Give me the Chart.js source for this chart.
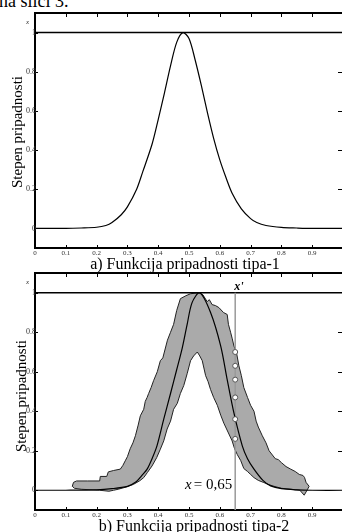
<!DOCTYPE html>
<html><head><meta charset="utf-8">
<script src="https://cdn.jsdelivr.net/npm/chart.js@4.4.0/dist/chart.umd.min.js"></script>
<style>
html,body{margin:0;padding:0;background:#fff;width:342px;height:532px;overflow:hidden;position:relative;font-family:"Liberation Serif","Times New Roman",serif;}
canvas{position:absolute;left:0;}
#c1{top:0}
#c2{top:262px}
.t{position:absolute;white-space:nowrap;color:#000;line-height:1;}
.yt{font-size:15px;transform:translate(-50%,-50%) rotate(-90deg);}
.cap{font-size:16px;transform:translate(-50%,-50%);}
</style></head><body>
<div class="t" id="head" style="left:-1px;top:-8px;font-size:18px;">na slici 3.</div>
<canvas id="c1" width="350" height="262"></canvas>
<canvas id="c2" width="350" height="270"></canvas>
<div class="t yt" style="left:17px;top:132px;">Stepen pripadnosti</div>
<div class="t yt" style="left:21px;top:396px;">Stepen pripadnosti</div>
<div class="t cap" style="left:185px;top:264px;">a) Funkcija pripadnosti tipa-1</div>
<div class="t cap" style="left:194px;top:526px;">b) Funkcija pripadnosti tipa-2</div>
<script>
// ---- data ----
const xTicks = [0,0.1,0.2,0.3,0.4,0.5,0.6,0.7,0.8,0.9];
const xTickLabels = ['0','0.1','0.2','0.3','0.4','0.5','0.6','0.7','0.8','0.9'];
const yTicks = [0,0.2,0.4,0.6,0.8,1];
const yTickLabels = ['0','0.2','0.4','0.6','0.8','1'];

// type-1 membership function (chart a)
const mf1X = [0,0.1,0.15,0.2,0.23,0.25,0.28,0.30,0.33,0.35,0.38,0.40,0.42,0.44,0.46,0.48,0.50,0.52,0.54,0.56,0.58,0.60,0.62,0.64,0.67,0.70,0.72,0.75,0.8,0.85,0.9,1.0];
const mf1Y = [0,0,0.002,0.006,0.015,0.03,0.07,0.11,0.2,0.29,0.43,0.556,0.69,0.83,0.95,1.0,0.97,0.86,0.73,0.59,0.46,0.35,0.26,0.18,0.1,0.05,0.03,0.015,0.005,0.002,0,0];

// type-2: principal membership function
const mf2X = [0.0,0.1,0.2,0.25,0.3,0.326,0.35,0.364,0.38,0.396,0.418,0.44,0.46,0.478,0.494,0.51,0.535,0.57,0.603,0.624,0.646,0.673,0.69,0.711,0.74,0.765,0.8,0.85,0.9,1.0];
const mf2Y = [0,0,0.002,0.008,0.02,0.04,0.08,0.107,0.16,0.225,0.36,0.49,0.61,0.72,0.84,0.95,1.0,0.90,0.73,0.56,0.39,0.225,0.16,0.107,0.05,0.022,0.008,0.002,0,0];

// footprint of uncertainty: upper (outer) boundary
const upperX = [0.121,0.125,0.135,0.17,0.21,0.212,0.233,0.238,0.255,0.277,0.285,0.293,0.30,0.309,0.318,0.326,0.335,0.342,0.353,0.358,0.364,0.369,0.377,0.385,0.397,0.407,0.415,0.42,0.43,0.44,0.45,0.46,0.472,0.49,0.505,0.532,0.545,0.559,0.566,0.575,0.586,0.597,0.612,0.624,0.628,0.635,0.64,0.646,0.655,0.662,0.67,0.678,0.69,0.70,0.711,0.718,0.725,0.738,0.75,0.76,0.78,0.79,0.80,0.815,0.83,0.845,0.858,0.87,0.875,0.88,0.89,0.885,0.874];
const upperY = [0.02,0.04,0.047,0.047,0.047,0.07,0.07,0.093,0.10,0.107,0.125,0.149,0.17,0.21,0.24,0.276,0.33,0.377,0.41,0.45,0.47,0.49,0.52,0.555,0.60,0.656,0.67,0.70,0.76,0.80,0.84,0.91,0.97,0.985,0.995,1.0,0.99,0.955,0.965,0.94,0.935,0.925,0.90,0.89,0.84,0.80,0.77,0.73,0.69,0.63,0.58,0.52,0.47,0.43,0.40,0.35,0.32,0.276,0.24,0.20,0.16,0.155,0.14,0.12,0.107,0.095,0.08,0.075,0.065,0.04,0.02,0.005,-0.025];
// lower (inner) boundary
const lowerX = [0.121,0.128,0.15,0.21,0.24,0.255,0.27,0.30,0.32,0.34,0.353,0.365,0.38,0.395,0.407,0.418,0.429,0.44,0.45,0.462,0.472,0.483,0.494,0.505,0.515,0.527,0.535,0.543,0.554,0.562,0.57,0.58,0.592,0.603,0.613,0.625,0.64,0.648,0.657,0.668,0.678,0.69,0.70,0.711,0.725,0.743,0.76,0.776,0.8,0.83,0.86,0.874];
const lowerY = [0.02,0.01,0.005,0.0,-0.005,0.0,0.005,0.018,0.03,0.048,0.064,0.09,0.123,0.165,0.208,0.25,0.31,0.35,0.41,0.44,0.49,0.53,0.59,0.656,0.68,0.70,0.68,0.656,0.58,0.55,0.51,0.47,0.43,0.38,0.34,0.30,0.25,0.21,0.18,0.15,0.11,0.095,0.08,0.064,0.05,0.039,0.028,0.02,0.01,0.005,0.0,-0.025];

// secondary grades at x' = 0.65
const xPrime = 0.65;
const circleY = [0.70,0.63,0.56,0.47,0.36,0.26];

// ---- helpers ----
const pts = (xs, ys) => xs.map((x, i) => ({x, y: ys[i]}));
const band = pts(upperX, upperY).concat(pts(lowerX, lowerY).reverse());

const frame = {
  id: 'frame',
  afterDatasetsDraw(chart) {
    const ctx = chart.ctx, xs = chart.scales.x, ys = chart.scales.y, a = chart.chartArea;
    ctx.save();
    ctx.strokeStyle = '#000'; ctx.lineWidth = 1;
    ctx.beginPath();
    xTicks.forEach(v => {
      if (v === 0) return;
      const px = Math.round(xs.getPixelForValue(v)) + 0.5;
      ctx.moveTo(px, a.bottom); ctx.lineTo(px, a.bottom - 3);
      ctx.moveTo(px, a.top); ctx.lineTo(px, a.top + 4);
    });
    yTicks.forEach(v => {
      const py = Math.round(ys.getPixelForValue(v)) + 0.5;
      ctx.moveTo(a.left, py); ctx.lineTo(a.left + 3, py);
      if (v > 0 && v < 1) { ctx.moveTo(a.right, py); ctx.lineTo(a.right - 5, py); }
    });
    ctx.stroke();
    ctx.fillStyle = '#333';
    ctx.font = '7px "Liberation Serif"';
    ctx.textAlign = 'center'; ctx.textBaseline = 'middle';
    xTicks.forEach((v, i) => ctx.fillText(xTickLabels[i], xs.getPixelForValue(v), a.bottom + 5));
    ctx.textAlign = 'right';
    ctx.font = '8px "Liberation Serif"';
    yTicks.forEach((v, i) => ctx.fillText(yTickLabels[i], a.left + 1, ys.getPixelForValue(v)));
    ctx.font = 'italic 7px "Liberation Serif"';
    ctx.fillText('x', a.left - 6, a.top + 9);
    const extra = chart.options.plugins.frame;
    if (extra && extra.prime) {
      ctx.fillStyle = '#000';
      ctx.textAlign = 'left'; ctx.textBaseline = 'alphabetic';
      ctx.font = 'bold italic 12px "Liberation Serif"';
      ctx.fillText("x'", xs.getPixelForValue(xPrime) - 1, ys.getPixelForValue(1) - 3);
      ctx.font = '15px "Liberation Serif"';
      ctx.textAlign = 'right';
      const right = xs.getPixelForValue(xPrime) - 3, base = ys.getPixelForValue(0) - 1;
      ctx.fillText('= 0,65', right, base);
      const w = ctx.measureText('= 0,65').width;
      ctx.font = 'italic 15px "Liberation Serif"';
      ctx.fillText('x', right - w - 2, base);
    }
    ctx.restore();
  }
};

const axis = (pos) => ({
  type: 'linear', position: pos, display: true,
  min: (pos === 'left' || pos === 'right') ? -0.1 : 0,
  max: (pos === 'left' || pos === 'right') ? 1.1 : 1,
  ticks: {display: false},
  grid: {display: false, drawTicks: false},
  border: {display: true, width: 2, color: '#000'}
});

function makeChart(id, datasets, pad, prime) {
  return new Chart(document.getElementById(id), {
    type: 'scatter',
    data: {datasets},
    options: {
      responsive: false, animation: false, devicePixelRatio: 1,
      layout: {padding: pad},
      plugins: {legend: {display: false}, tooltip: {enabled: false}, frame: {prime}},
      scales: {x: axis('bottom'), x2: axis('top'), y: axis('left'), y2: axis('right')}
    },
    plugins: [frame]
  });
}

const lineDs = (data, extra) => Object.assign({
  data, showLine: true, pointRadius: 0, borderColor: '#000', borderWidth: 1.2,
  backgroundColor: 'transparent', fill: false, tension: 0
}, extra || {});

// datasets listed top-most first (Chart.js draws the last one first)
makeChart('c1', [
  lineDs(pts(mf1X, mf1Y), {tension: 0.3}),
  lineDs([{x: 0, y: 1}, {x: 1, y: 1}], {borderWidth: 1.5})
], {left: 35, top: 13, right: 7, bottom: 14}, false);

makeChart('c2', [
  {data: circleY.map(y => ({x: xPrime, y})), showLine: false, pointRadius: 2.5,
   pointBackgroundColor: '#fff', pointBorderColor: '#555', pointBorderWidth: 1},
  lineDs(pts(mf2X, mf2Y), {tension: 0.3}),
  lineDs([{x: xPrime, y: -0.1}, {x: xPrime, y: 1}], {borderColor: '#999', borderWidth: 1.5}),
  lineDs([{x: 0, y: 1}, {x: 1, y: 1}], {borderWidth: 1.5}),
  lineDs(band, {fill: 'shape', backgroundColor: '#aaaaaa', borderColor: '#222', borderWidth: 1})
], {left: 35, top: 11, right: 7, bottom: 22}, true);
</script>
</body></html>
